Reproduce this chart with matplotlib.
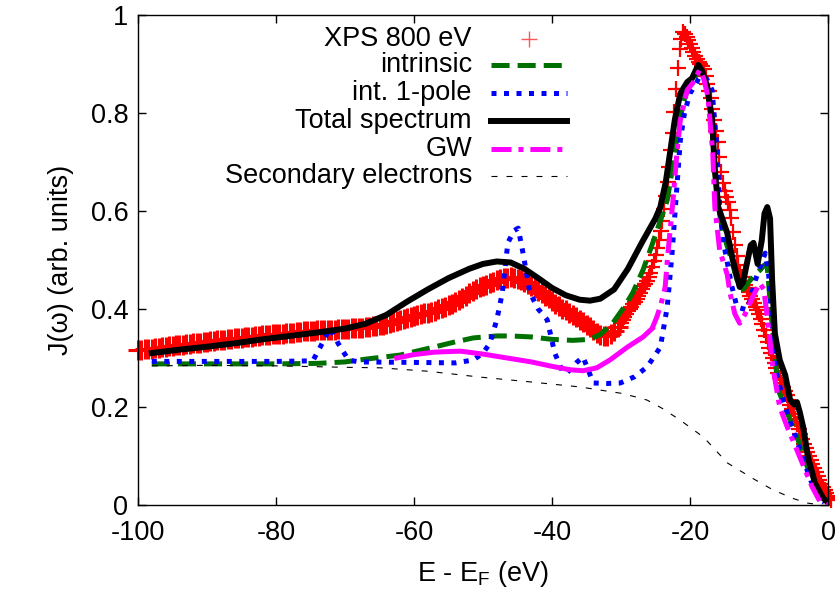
import numpy as np
import matplotlib
matplotlib.use("Agg")
import matplotlib.pyplot as plt

plt.rcParams['font.family'] = ['Liberation Sans', 'DejaVu Sans']
plt.rcParams['mathtext.default'] = 'regular'
plt.rcParams['axes.unicode_minus'] = False
plt.rcParams['lines.scale_dashes'] = False

# XPS 800 eV measurement, broad part (0.5 eV grid)
xps_e_low = np.arange(-100.0, -30.4, 0.5)
xps_j_low = [
    .316, .317, .318, .318, .319, .320, .321, .322, .323, .324,
    .325, .326, .327, .327, .328, .329, .330, .330, .331, .332,
    .333, .334, .335, .336, .337, .337, .338, .339, .340, .340,
    .341, .342, .343, .343, .344, .345, .346, .346, .347, .348,
    .349, .349, .350, .351, .352, .352, .353, .354, .355, .355,
    .356, .356, .357, .357, .357, .358, .358, .358, .359, .359,
    .360, .360, .361, .361, .362, .362, .363, .364, .365, .366,
    .367, .368, .370, .372, .374, .376, .378, .380, .382, .384,
    .385, .387, .389, .391, .392, .394, .396, .399, .402, .405,
    .408, .411, .415, .419, .423, .427, .432, .436, .440, .444,
    .447, .450, .453, .456, .459, .461, .463, .464, .465, .464,
    .462, .459, .455, .451, .446, .442, .437, .432, .427, .422,
    .417, .411, .406, .401, .397, .392, .388, .383, .378, .373,
    .368, .363, .357, .352, .347, .344, .345, .349, .355, .363,
]

# XPS 800 eV measurement, peak region (0.25 eV grid)
xps_e_high = np.arange(-30.0, 0.51, 0.25)
xps_j_high = [
    .372, .377, .383, .389, .395, .400, .405, .410, .415, .421,
    .427, .433, .440, .446, .452, .458, .465, .474, .485, .497,
    .510, .524, .540, .559, .580, .604, .630, .659, .690, .724,
    .760, .803, .850, .892, .930, .952, .965, .962, .955, .948,
    .940, .932, .925, .917, .910, .905, .900, .896, .890, .876,
    .860, .845, .830, .808, .785, .763, .740, .710, .680, .658,
    .640, .628, .618, .603, .585, .558, .530, .508, .490, .476,
    .465, .457, .450, .442, .435, .427, .420, .412, .405, .398,
    .390, .380, .370, .358, .345, .332, .320, .310, .300, .290,
    .280, .270, .260, .250, .241, .233, .225, .215, .205, .195,
    .185, .175, .165, .155, .145, .135, .125, .116, .108, .100,
    .092, .084, .076, .068, .060, .051, .043, .036, .030, .024,
    .018, .014, .010,
]

# intrinsic
intr_e = [-98, -90, -80, -74, -70, -66.8, -62, -57.2, -54, -51.4, -48, -46, -43,
          -40, -37, -34.5, -33, -31.2, -29.5, -28.3, -26.8, -25.4, -24.3, -23.3,
          -22.5, -21.8, -21, -20.2, -19.5, -18.7, -18.1, -17.4, -16.8, -16.3,
          -15.8, -15.2, -14.2, -13.2, -12.3, -11.5, -10.6, -9.8, -9.2, -8.8,
          -8.3, -7.8, -7.2, -5.9, -4.5, -3, -2, -1, 0]
intr_j = [.288, .288, .288, .289, .292, .298, .306, .322, .333, .341, .345, .345, .343,
          .338, .336, .338, .348, .371, .405, .433, .480, .535, .580, .622,
          .690, .760, .820, .855, .865, .890, .880, .840, .770, .670,
          .600, .555, .510, .460, .440, .455, .470, .480, .490, .485,
          .400, .320, .235, .188, .139, .078, .040, .015, .005]

# intrinsic, 1-pole
pole_e = [-98, -90, -80, -75.5, -74.6, -73.3, -72.2, -71, -69.5, -68, -60, -54,
          -51.4, -50, -49, -48, -47.2, -46.4, -45.5, -44.9, -44.2, -43.2, -42,
          -40.7, -39.6, -38.4, -37.8, -36.5, -35.5, -34.6, -34, -32, -30.1, -28,
          -26.2, -24.3, -23.3, -22.6, -21.9, -21.4, -20.8, -20, -19.3, -18.6,
          -17.6, -16.8, -16.1, -15.7, -15.2, -14, -13.2, -11.7, -10.5, -9.1,
          -8.6, -8.1, -7.5, -6.5, -5.5, -4.5, -3.5, -2.5, -1.5, -0.5]
pole_j = [.293, .293, .293, .294, .296, .330, .361, .330, .296, .292, .291, .290,
          .296, .310, .330, .378, .433, .535, .560, .565, .514, .433, .400,
          .378, .310, .270, .270, .290, .302, .270, .249, .248, .249, .262,
          .282, .322, .404, .514, .649, .745, .800, .840, .855, .875,
          .870, .847, .730, .608, .540, .450, .404, .398, .460, .514,
          .470, .370, .270, .215, .170, .130, .090, .050, .020, .005]

# total spectrum
tot_e = [-98, -94, -90, -86, -82, -78, -74, -70, -67, -64, -61, -58, -55, -52,
         -50, -48, -46, -44, -42, -40, -38, -36, -34.5, -33, -31, -29, -27, -25,
         -24.3, -23.5, -22.9, -22.2, -21.4, -20.4, -19.7, -18.8, -18.2, -17.5,
         -16.8, -16.4, -15.9, -14.6, -13.8, -12.8, -12.3, -11.8, -11.2, -10.8,
         -10.2, -9.6, -9.2, -8.8, -8.4, -8.1, -7.7, -7.0, -6.2, -5.5, -4.9,
         -4.5, -4.1, -3.6, -2.9, -1.9, -0.7, 0]
tot_j = [.310, .317, .323, .330, .338, .345, .352, .360, .370, .388, .415, .440, .463, .482,
         .492, .497, .495, .482, .463, .443, .428, .419, .417, .421, .440, .482, .535, .585,
         .608, .660, .718, .786, .840, .863, .871, .898, .885, .853,
         .786, .684, .608, .555, .500, .445, .455, .490, .530, .535,
         .492, .540, .595, .608, .585, .460, .350, .296, .265, .215, .205,
         .210, .190, .159, .098, .045, .014, .005]

# GW
gw_e = [-62.5, -60, -57, -53.3, -50, -46.5, -43, -40, -37.4, -35.5, -33.5, -31.6,
        -29.1, -26.8, -25.5, -24.8, -24.2, -23.6, -23.2, -22.5, -21.9, -21.4, -20.4,
        -19.6, -18.6, -18.0, -17.4, -16.7, -16.4, -15.7, -14.6, -14.2, -13.5, -12.8,
        -12, -10.9, -9.9, -9.3, -8.6, -8, -7, -5.9, -4.5, -3.3, -2.3, -1.2, 0]
gw_j = [.300, .307, .312, .314, .308, .300, .292, .283, .276, .274, .280, .296,
        .322, .343, .360, .384, .410, .445, .514, .616, .718, .786, .847,
        .861, .888, .870, .833, .718, .608, .520, .470, .433, .390, .371,
        .390, .425, .453, .440, .360, .282, .200, .159, .112, .071, .037, .008, .0]

# secondary electrons background
sec_e = [-98, -90, -80, -70, -64.9, -58, -50.4, -43, -36, -30, -27.7, -26.2, -24,
         -21.4, -18, -14.6, -11, -8, -5, -3, -1]
sec_j = [.284, .285, .284, .281, .280, .273, .261, .251, .241, .228, .220, .214, .197,
         .173, .138, .086, .055, .031, .013, .004, .0]

fig = plt.figure(figsize=(8.35, 5.93), dpi=100)
ax = fig.add_axes([138 / 835, 88 / 593, 690 / 835, 490 / 593])

ax.plot(xps_e_low, xps_j_low, ls='none', marker='+', ms=14, mew=2.2, color='red',
        clip_on=False)
ax.plot(xps_e_high, xps_j_high, ls='none', marker='+', ms=12, mew=1.6, color='red',
        clip_on=False)
ax.plot(intr_e, intr_j, color='#007000', lw=3.6, dashes=(13, 5.8), dash_capstyle='butt')
ax.plot(pole_e, pole_j, color='#0000ff', lw=3.6, dashes=(3.6, 5.4), dash_capstyle='butt')
ax.plot(tot_e, tot_j, color='black', lw=4.3, solid_joinstyle='round')
# GW: dense data in the flat part renders as a solid line in the original
n_flat = 15
ax.plot(gw_e[:n_flat], gw_j[:n_flat], color='#ff00ff', lw=3.6)
ax.plot(gw_e[n_flat - 1:], gw_j[n_flat - 1:], color='#ff00ff', lw=3.6,
        dashes=(14.4, 5, 3.6, 5), dash_capstyle='butt')
ax.plot(sec_e, sec_j, color='black', lw=0.8, dashes=(4.3, 6.5))

ax.set_xlim(-100, 0)
ax.set_ylim(0, 1)
ax.set_xticks([-100, -80, -60, -40, -20, 0])
ax.set_yticks([0, 0.2, 0.4, 0.6, 0.8, 1])
ax.set_yticklabels(['0', '0.2', '0.4', '0.6', '0.8', '1'])
ax.tick_params(direction='in', top=True, right=True, length=6, width=1,
               labelsize=19.5, pad=7)
ax.tick_params(axis='x', pad=11)
for s in ax.spines.values():
    s.set_linewidth(1.0)

ax.set_xlabel('E - E$_F$ (eV)', fontsize=19.5, labelpad=9)
ax.set_ylabel('J(ω) (arb. units)', fontsize=19.5, labelpad=12)

# gnuplot-style key: text right aligned, sample on the right
labels = ['XPS 800 eV', 'intrinsic', 'int. 1-pole', 'Total spectrum', 'GW',
          'Secondary electrons']
rows = [0.952, 0.898, 0.841, 0.784, 0.727, 0.671]
tx, x0, x1 = 0.484, 0.512, 0.622
for lab, yy in zip(labels, rows):
    ax.text(tx, yy, lab, transform=ax.transAxes, ha='right', va='center', fontsize=19.5)
ax.plot([0.567], [rows[0]], transform=ax.transAxes, ls='none', marker='+', ms=12,
        mew=1.0, color='#ff5555')
ax.plot([x0, x1], [rows[1]] * 2, transform=ax.transAxes, color='#007000', lw=3.6,
        dashes=(13, 5.8), dash_capstyle='butt')
ax.plot([x0, x1], [rows[2]] * 2, transform=ax.transAxes, color='#0000ff', lw=3.6,
        dashes=(3.6, 5.4), dash_capstyle='butt')
ax.plot([x0, x1], [rows[3]] * 2, transform=ax.transAxes, color='black', lw=4.3)
ax.plot([x0, x1], [rows[4]] * 2, transform=ax.transAxes, color='#ff00ff', lw=3.6,
        dashes=(14.4, 5, 3.6, 5), dash_capstyle='butt')
ax.plot([x0, x1], [rows[5]] * 2, transform=ax.transAxes, color='black', lw=0.8,
        dashes=(4.3, 6.5))

fig.savefig('out.png', dpi=100)
